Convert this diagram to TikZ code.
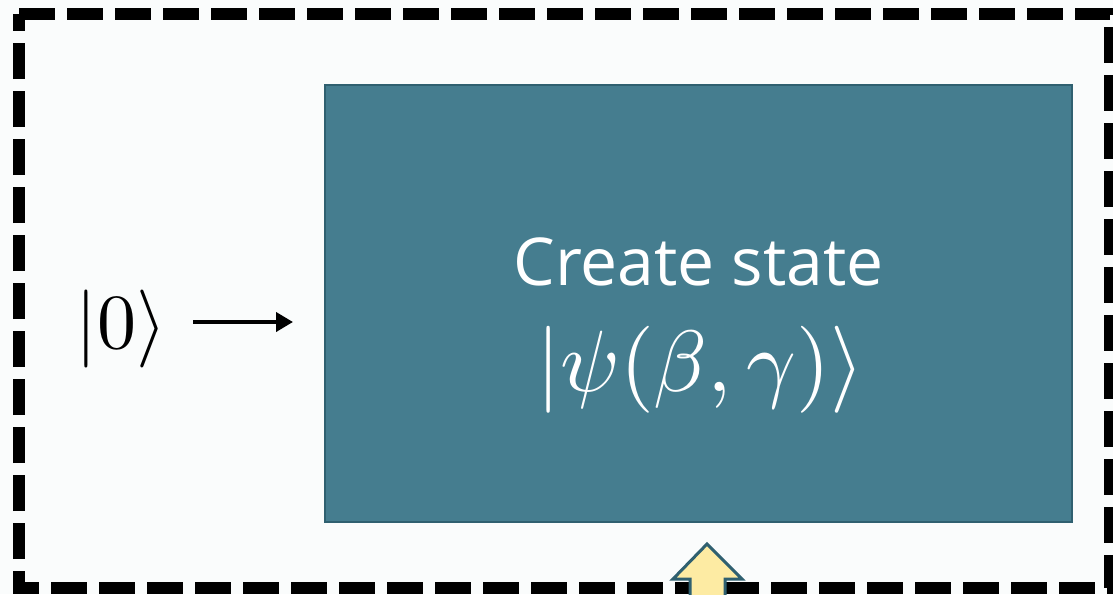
\documentclass[tikz,border=0pt]{standalone}
\usepackage{fontspec}
\newfontfamily\labelfont{Open Sans}
\usetikzlibrary{arrows.meta}
\definecolor{paper}{RGB}{250,252,252}
\definecolor{teal}{RGB}{69,125,143}
\definecolor{tealedge}{RGB}{47,96,112}
\definecolor{butter}{RGB}{253,235,163}
\tikzset{
  frame/.style={draw=black, line width=12pt, dash pattern=on 36pt off 12pt},
  statebox/.style={draw=tealedge, fill=teal, line width=2pt, minimum width=747pt, minimum height=437pt, inner sep=0pt},
  boxtext/.style={text=white, inner sep=0pt},
  conn/.style={draw=black, line width=4pt, -{Triangle[length=17pt,width=19pt]}},
  blockarrow/.style={draw=tealedge, fill=butter, line width=3pt, line join=miter}
}
\begin{document}
\begin{tikzpicture}[x=1pt,y=-1pt]
  \useasboundingbox (0,0) rectangle (1113,594);
  \clip (0,0) rectangle (1113,594);
  \fill[paper] (0,0) rectangle (1113,594);
  % dashed outer frame
  \draw[frame] (19,14) -- (1110,14) -- (1110,587.5) -- (19,587.5) -- cycle;
  % state preparation block
  \node[statebox] (box) at (698.5,303.5) {};
  \node[boxtext, anchor=base] (title) at (698.5,285) {\labelfont\fontsize{66}{72}\selectfont Create state};
  \node[boxtext, anchor=base, scale=8.7] (psi) at (700,391) {$|\psi(\beta,\gamma)\rangle$};
  % initial state and input arrow
  \node[inner sep=0pt, anchor=base, scale=7.8] (zero) at (121,348) {$|0\rangle$};
  \coordinate (in) at (293,322);
  \draw[conn, shorten <=25pt] (zero.east |- in) -- (in);
  % incoming block arrow from below
  \draw[blockarrow] (707,544) -- (742,579) -- (725,579) -- (725,600) -- (690,600) -- (690,579) -- (673,579) -- cycle;
\end{tikzpicture}
\end{document}
